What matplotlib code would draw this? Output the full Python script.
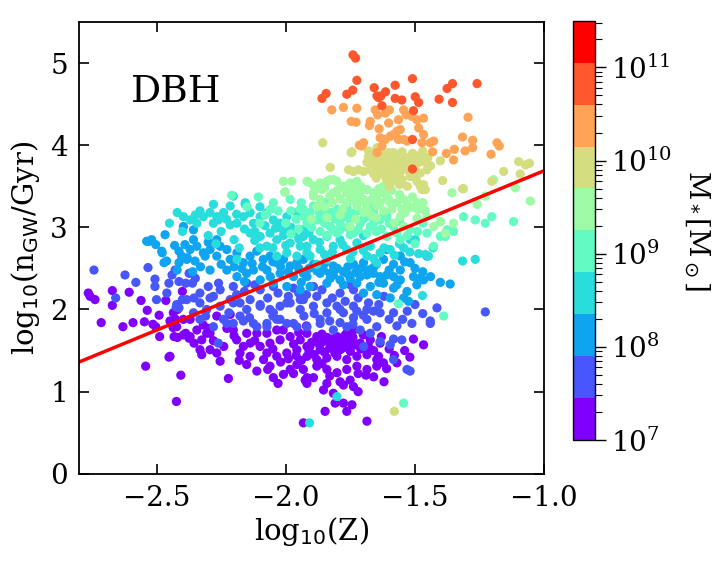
import numpy as np
import matplotlib
matplotlib.use("Agg")
import matplotlib.pyplot as plt
from matplotlib.colors import LogNorm

plt.rcParams['font.family'] = ['DejaVu Serif']
plt.rcParams['mathtext.fontset'] = 'dejavusans'

# log10 stellar mass of each colour bin
bin_logmass = [7.2, 7.65, 8.1, 8.55, 9.0, 9.45, 9.9, 10.35, 10.8]

pts_b0 = [(-2.764,2.20),(-2.757,2.16),(-2.738,2.12),(-2.671,2.23),(-2.671,2.05),(-2.606,2.21),(-2.56,2.11),(-2.536,1.99),(-2.49,1.93),(-2.464,2.11),(-2.514,1.82),(-2.503,1.79),(-2.488,1.67),(-2.63,1.79),(-2.591,1.84),(-2.547,1.85),(-2.714,1.84),(-2.436,1.78),(-2.426,1.88),(-2.419,2.00),(-2.40,2.22),(-2.432,1.67),(-2.419,1.66),(-2.387,1.71),(-2.374,1.65),(-2.355,1.59),(-2.452,1.42),(-2.406,1.20),(-2.542,1.31),(-2.423,0.88),(-2.448,1.86),(-2.435,1.96),(-2.396,1.88),(-2.396,1.69),(-2.37,1.67),(-2.344,1.75),(-2.325,1.63),(-2.319,1.81),(-2.299,1.77),(-2.293,1.71),(-2.267,1.47),(-2.254,1.37),(-2.222,1.16),(-2.332,1.51),(-2.293,1.51),(-2.325,1.45),(-2.448,1.43),(-2.19,1.63),(-2.164,1.55),(-2.138,1.59),(-2.177,1.47),(-2.138,1.43),(-2.151,1.33),(-2.112,1.25),(-2.086,1.39),(-2.061,1.31),(-2.048,1.17),(-2.009,1.21),(-1.983,1.27),(-1.957,1.33),(-1.932,1.27),(-1.918,1.17),(-2.073,1.47),(-2.035,1.43),(-1.996,1.47),(-1.957,1.51),(-1.918,1.55),(-2.099,1.55),(-2.061,1.59),(-2.022,1.63),(-1.983,1.67),(-1.944,1.63),(-1.918,1.71),(-2.151,1.71),(-2.112,1.71),(-2.073,1.71),(-2.035,1.75),(-2.203,1.75),(-2.228,1.77),(-2.306,1.71),(-2.422,1.79),(-2.37,1.88),(-2.267,1.92),(-2.215,1.94),(-1.88,1.67),(-1.841,1.63),(-1.802,1.67),(-1.764,1.71),(-1.738,1.75),(-1.906,1.55),(-1.867,1.51),(-1.828,1.55),(-1.79,1.51),(-1.751,1.55),(-1.712,1.59),(-1.673,1.63),(-1.635,1.59),(-1.918,1.43),(-1.88,1.39),(-1.841,1.41),(-1.802,1.43),(-1.764,1.39),(-1.725,1.43),(-1.686,1.45),(-1.648,1.39),(-1.88,1.31),(-1.841,1.27),(-1.802,1.23),(-1.764,1.27),(-1.725,1.31),(-1.686,1.27),(-1.648,1.31),(-1.925,1.14),(-1.893,1.17),(-1.841,1.10),(-1.79,1.12),(-1.751,1.14),(-1.854,1.02),(-1.816,0.98),(-1.777,1.08),(-1.738,1.06),(-1.777,0.86),(-1.744,0.84),(-1.809,0.86),(-1.764,0.76),(-1.686,0.64),(-1.848,0.76),(-1.918,1.10),(-1.641,1.43),(-1.622,1.35),(-1.86,1.60),(-1.82,1.58),(-1.78,1.62),(-1.84,1.66),(-1.80,1.56),(-1.76,1.60),(-1.88,1.62),(-1.83,1.53),(-1.79,1.65),(-1.74,1.66),(-1.86,1.70),(-1.90,1.60),(-1.932,0.62),(-1.467,1.57),(-1.506,1.64),
          (-2.05,1.52),(-2.02,1.36),(-1.99,1.40),(-1.96,1.44),(-1.94,1.38),(-1.91,1.49),(-1.89,1.45),(-1.87,1.57),(-1.85,1.48),(-1.82,1.64),(-1.81,1.47),(-1.78,1.53),(-1.77,1.69),(-1.75,1.49),(-1.73,1.57),(-1.71,1.52),(-1.70,1.69),(-1.68,1.55),(-1.66,1.50),(-1.63,1.67),(-1.60,1.52),(-1.58,1.44),(-1.61,1.28),(-1.69,1.20),(-1.72,1.22),(-1.83,1.19),(-1.86,1.34),(-1.97,1.58),(-2.01,1.75),(-2.12,1.62),(-2.18,1.38),(-2.24,1.55),(-2.28,1.62),(-2.20,1.68),(-2.07,1.27),(-1.95,1.72),(-1.92,1.80),(-1.97,1.22),(-2.03,1.10),(-1.72,1.00),(-1.66,1.18),(-1.62,1.12),(-1.57,1.35),(-1.54,1.50),(-1.52,1.42)]

pts_b1 = [(-2.742,2.48),(-2.622,2.42),(-2.533,2.51),(-2.506,2.37),(-2.506,2.28),(-2.452,2.32),(-2.428,2.48),(-2.413,2.34),(-2.387,2.32),(-2.374,2.44),(-2.361,2.32),(-2.355,2.14),(-2.40,2.12),(-2.413,2.02),(-2.658,2.14),(-2.424,2.03),(-2.383,2.12),(-2.332,2.20),(-2.28,2.16),(-2.254,2.24),(-2.203,2.28),(-2.151,2.32),(-2.099,2.24),(-2.048,2.28),(-1.95,2.20),(-1.893,2.28),(-1.79,2.20),(-1.738,2.24),(-2.357,1.96),(-2.306,2.00),(-2.254,2.04),(-2.203,2.08),(-2.151,2.00),(-2.099,2.04),(-2.048,1.96),(-1.996,2.08),(-1.944,2.00),(-1.893,2.04),(-1.841,1.96),(-1.79,2.00),(-1.738,2.04),(-2.332,1.88),(-2.28,1.79),(-2.228,1.83),(-2.177,1.92),(-2.125,1.83),(-2.073,1.79),(-2.022,1.88),(-1.97,1.83),(-1.918,1.79),(-1.867,1.83),(-1.816,1.75),(-1.764,1.79),(-2.261,1.59),(-1.932,2.12),(-1.88,2.16),(-1.841,2.08),(-1.802,2.04),(-1.777,1.96),(-1.725,1.98),(-1.686,2.00),(-1.661,1.98),(-1.635,1.96),(-1.583,1.96),(-1.686,1.88),(-1.648,1.79),(-1.712,1.75),(-1.673,1.71),(-1.635,1.61),(-1.596,1.57),(-1.583,1.39),(-1.551,1.63),(-1.512,1.83),(-1.441,1.83),(-1.415,2.02),(-1.531,1.27),(-1.519,1.25),(-1.699,1.55),(-1.738,1.90),(-1.867,1.88),(-1.228,1.97),(-1.441,1.86),(-1.548,1.88),(-1.583,1.64),(-2.422,2.06),(-2.332,2.08),(-2.293,2.14),(-2.215,2.12),(-2.177,2.08),(-2.138,2.12),(-2.099,2.06),(-2.061,2.00),(-2.022,2.04),(-1.983,2.08),(-1.944,2.12),(-2.241,1.88),(-2.203,1.83),(-2.164,1.86),(-2.112,1.79),(-2.073,1.83),(-2.035,1.88),(-1.996,1.83),(-1.957,1.79),
          (-2.26,2.32),(-2.19,2.18),(-2.16,2.22),(-2.12,2.30),(-2.07,2.14),(-2.03,2.20),(-1.99,2.16),(-1.97,2.26),(-1.92,2.18),(-1.86,2.24),(-1.82,2.14),(-1.77,2.10),(-1.75,2.30),(-1.72,2.14),(-1.68,2.08),(-1.64,2.06),(-1.62,2.16),(-1.60,1.88),(-1.57,1.80),(-1.53,1.98),(-1.50,2.06),(-1.47,1.95),(-2.31,1.92),(-2.22,1.96),(-2.14,1.90),(-2.05,1.92),(-1.93,1.92),(-1.89,1.95),(-1.83,1.86),(-1.79,1.84),(-1.74,1.82),(-1.70,1.93),(-2.46,2.20),(-2.50,2.12),(-2.58,2.33),(-2.44,2.42),(-2.35,2.38),(-2.30,2.28)]

pts_b2 = [(-2.467,2.91),(-2.48,2.71),(-2.39,2.79),(-2.357,2.85),(-2.383,2.61),(-2.351,2.59),(-2.312,2.65),(-2.293,2.73),(-2.267,2.65),(-2.228,2.73),(-2.215,2.61),(-2.189,2.69),(-2.164,2.57),(-2.138,2.65),(-2.112,2.71),(-2.087,2.61),(-2.061,2.65),(-2.035,2.57),(-2.009,2.61),(-1.983,2.53),(-1.957,2.57),(-2.125,2.48),(-2.073,2.48),(-2.022,2.44),(-1.97,2.40),(-1.932,2.44),(-2.293,2.48),(-2.228,2.48),(-2.189,2.40),(-2.151,2.44),(-2.099,2.36),(-2.048,2.32),(-1.996,2.28),(-1.944,2.24),(-2.357,2.97),(-2.396,3.01),(-2.538,2.83),(-2.519,2.85),(-2.461,2.59),(-2.403,2.65),(-2.37,2.73),(-2.344,2.77),(-2.319,2.69),(-2.267,2.85),(-2.254,2.77),(-2.529,2.83),(-2.503,2.79),(-2.478,2.69),(-2.413,2.71),(-2.413,2.57),(-2.471,2.57),(-2.381,2.63),(-1.932,2.61),(-1.893,2.55),(-1.854,2.48),(-1.816,2.53),(-1.777,2.46),(-1.738,2.55),(-1.699,2.57),(-1.661,2.51),(-1.622,2.61),(-1.583,2.55),(-1.557,2.48),(-1.519,2.57),(-1.48,2.38),(-1.583,2.40),(-1.635,2.40),(-1.686,2.42),(-1.751,2.38),(-1.828,2.38),(-1.918,2.40),(-1.557,2.65),(-1.454,2.65),(-1.609,2.73),(-1.867,2.44),(-1.816,2.42),(-1.764,2.44),(-1.712,2.40),(-1.661,2.44),(-1.609,2.42),(-1.557,2.36),(-1.506,2.40),(-1.467,2.36),(-1.402,2.33),(-1.364,2.31),(-1.906,2.28),(-1.841,2.32),(-1.777,2.30),(-1.725,2.32),(-1.673,2.28),(-1.622,2.32),(-1.583,2.26),(-1.531,2.22),(-1.493,2.30),(-1.648,2.18),(-1.596,2.14),(-1.544,2.14),(-1.525,2.10),(-1.699,2.20),
          (-2.25,2.55),(-2.20,2.52),(-2.17,2.50),(-2.13,2.56),(-2.09,2.52),(-2.05,2.58),(-2.02,2.52),(-1.99,2.46),(-1.95,2.50),(-1.91,2.50),(-1.88,2.47),(-1.85,2.56),(-1.83,2.44),(-1.80,2.50),(-1.79,2.36),(-1.76,2.52),(-1.73,2.45),(-1.71,2.50),(-1.68,2.48),(-1.65,2.55),(-1.64,2.33),(-1.60,2.48),(-1.57,2.30),(-1.54,2.58),(-1.50,2.50),(-1.47,2.46),(-1.44,2.40),(-2.33,2.52),(-2.36,2.46),(-2.42,2.48),(-2.43,2.78),(-2.30,2.82),(-2.16,2.34),(-2.06,2.40),(-1.94,2.33)]

pts_b3 = [(-2.28,3.28),(-2.215,3.26),(-2.157,3.28),(-2.138,3.18),(-2.332,3.20),(-2.396,3.13),(-2.37,3.09),(-2.344,3.05),(-2.319,3.13),(-2.293,3.18),(-2.267,3.13),(-2.241,3.18),(-2.215,3.03),(-2.189,3.05),(-2.164,3.13),(-2.125,3.05),(-2.099,3.13),(-2.073,3.18),(-2.048,3.09),(-2.022,3.05),(-1.996,3.13),(-1.957,3.18),(-2.138,2.93),(-2.099,2.89),(-2.061,2.93),(-2.009,2.97),(-1.97,2.93),(-1.932,2.97),(-2.035,2.85),(-1.983,2.81),(-1.944,2.77),(-2.073,2.77),(-1.996,2.69),(-1.957,2.65),(-1.918,2.69),(-2.189,2.61),(-2.035,2.65),(-2.261,3.09),(-2.203,3.38),(-2.157,3.30),(-1.932,2.89),(-1.893,2.85),(-1.841,2.89),(-1.79,2.85),(-1.918,2.77),(-1.867,2.73),(-1.816,2.77),(-1.764,2.73),(-1.906,2.65),(-1.841,2.61),(-1.725,2.81),(-1.673,2.77),(-1.635,2.69),(-1.686,2.65),(-1.596,2.73),(-1.648,2.57),(-1.519,2.85),(-1.486,2.68),(-1.46,2.67),(-1.43,2.75),(-1.448,2.65),(-1.316,2.59),(-1.267,2.61),(-1.499,2.85),(-1.544,2.75),(-1.471,2.17),(-1.802,0.94),(-1.908,0.62),(-2.25,2.95),(-2.30,2.90),(-2.10,2.75),(-1.88,2.55),(-1.75,2.62),(-1.70,2.90),(-2.45,3.05),(-2.20,2.85),
          (-2.35,3.15),(-2.28,3.05),(-2.23,3.10),(-2.19,3.16),(-2.16,2.98),(-2.12,2.95),(-2.08,3.02),(-2.04,2.99),(-2.01,2.90),(-1.98,3.00),(-1.95,2.86),(-1.91,2.93),(-1.87,2.82),(-1.85,2.67),(-1.82,2.70),(-1.78,2.79),(-1.74,2.70),(-1.70,2.72),(-1.66,2.62),(-1.62,2.75),(-1.58,2.66),(-1.56,2.80),(-1.52,2.70),(-2.27,2.80),(-2.18,2.75),(-2.12,2.84),(-2.05,2.75),(-2.00,2.78),(-2.40,2.95),(-2.42,3.18),(-2.10,3.25),(-2.03,3.00)]

pts_b4 = [(-2.048,3.30),(-1.983,3.34),(-1.944,3.22),(-1.893,3.26),(-1.848,3.30),(-1.816,3.18),(-1.764,3.26),(-1.725,3.30),(-1.88,3.09),(-1.816,2.97),(-1.751,3.09),(-1.738,2.93),(-1.932,3.22),(-1.906,3.18),(-1.88,3.24),(-1.854,3.20),(-1.828,3.18),(-1.802,3.22),(-1.777,3.13),(-1.751,3.18),(-1.725,3.20),(-1.686,3.13),(-1.661,3.18),(-1.635,3.09),(-1.609,3.13),(-1.583,3.01),(-1.918,3.05),(-1.867,3.09),(-1.828,3.01),(-1.79,3.05),(-1.76,3.00),(-1.712,3.05),(-1.673,3.01),(-1.867,2.95),(-1.802,2.93),(-1.751,2.91),(-1.686,2.93),(-1.609,2.89),(-1.57,2.93),(-1.519,2.97),(-1.557,2.85),(-1.454,2.93),(-1.402,2.89),(-1.376,2.97),(-1.351,2.95),(-1.402,3.07),(-1.383,2.89),(-1.312,3.13),(-1.267,3.09),(-1.228,3.05),(-1.203,3.13),(-1.119,3.07),(-1.428,2.77),(-1.564,2.07),(-1.389,1.92),(-1.544,0.86),(-2.209,3.39),(-2.106,3.37),(-2.003,3.43),(-2.15,3.25),(-2.08,3.15),(-2.00,3.05),(-1.95,2.98),(-2.03,3.20),(-1.65,2.95),(-1.50,2.80),(-1.47,3.05),
          (-1.98,3.20),(-1.96,3.10),(-1.93,3.13),(-1.90,3.00),(-1.87,3.18),(-1.85,3.05),(-1.84,2.90),(-1.81,3.10),(-1.79,2.97),(-1.77,3.25),(-1.74,3.15),(-1.72,2.97),(-1.70,3.10),(-1.68,3.25),(-1.66,3.05),(-1.63,2.98),(-1.62,3.15),(-1.60,3.05),(-1.56,3.08),(-1.53,2.90),(-1.49,2.95),(-2.10,3.05),(-2.06,3.22),(-1.98,2.92),(-1.94,3.30)]

pts_b5 = [(-1.918,3.56),(-1.867,3.54),(-1.828,3.58),(-1.802,3.56),(-1.816,3.42),(-1.777,3.50),(-1.751,3.54),(-1.725,3.56),(-1.738,3.38),(-1.712,3.42),(-1.686,3.46),(-1.699,3.34),(-1.667,3.34),(-1.648,3.38),(-1.622,3.42),(-1.635,3.30),(-1.602,3.34),(-1.57,3.30),(-1.544,3.34),(-1.519,3.24),(-1.467,3.22),(-1.454,3.13),(-1.428,3.01),(-1.402,3.07),(-1.383,2.93),(-1.357,3.42),(-1.351,3.05),(-1.557,3.13),(-1.493,3.11),(-1.544,3.01),(-1.622,3.50),(-1.764,3.30),(-1.725,3.26),(-1.686,3.22),(-1.751,3.01),(-1.893,3.42),(-1.86,3.46),(-1.648,3.26),(-1.596,3.30),(-1.538,3.18),(-1.493,3.30),(-1.46,3.20),(-1.312,3.47),(-1.26,3.28),(-1.228,3.38),(-1.054,3.32),(-1.112,3.48),(-1.196,3.58),(-2.009,3.56),(-1.977,3.56),(-1.912,3.55),(-2.003,3.43),(-1.893,3.38),(-1.867,3.34),(-1.841,3.56),(-1.816,3.58),(-1.764,3.42),(-1.738,3.46),(-1.751,3.34),(-1.88,3.25),(-1.82,3.30),(-1.78,3.22),(-1.70,3.18),(-1.65,3.12),(-1.62,3.20),(-1.58,3.05),(-1.55,3.22),(-1.90,3.10),(-1.84,3.12),
          (-1.89,3.50),(-1.85,3.48),(-1.83,3.38),(-1.80,3.45),(-1.79,3.35),(-1.76,3.48),(-1.73,3.35),(-1.71,3.50),(-1.69,3.28),(-1.66,3.42),(-1.64,3.47),(-1.61,3.37),(-1.59,3.45),(-1.59,3.22),(-1.56,3.40),(-1.53,3.28),(-1.51,3.37),(-1.49,3.22),(-1.47,3.30),(-1.85,3.25),(-1.79,3.15),(-1.73,3.10),(-1.67,3.15)]

pts_b6 = [(-1.857,4.03),(-1.747,3.91),(-1.828,3.73),(-1.757,3.70),(-1.738,3.68),(-1.719,3.70),(-1.699,3.68),(-1.68,3.93),(-1.667,3.87),(-1.686,3.79),(-1.654,3.82),(-1.673,3.70),(-1.641,3.74),(-1.622,3.79),(-1.628,3.70),(-1.615,3.62),(-1.602,3.74),(-1.596,3.66),(-1.577,3.72),(-1.57,3.82),(-1.557,3.87),(-1.583,3.91),(-1.544,3.76),(-1.531,3.70),(-1.519,3.79),(-1.499,3.87),(-1.48,3.85),(-1.46,3.80),(-1.454,3.70),(-1.506,3.62),(-1.493,3.56),(-1.467,3.52),(-1.564,3.62),(-1.589,3.56),(-1.602,3.91),(-1.622,3.89),(-1.647,3.97),(-1.635,3.89),(-1.402,3.81),(-1.393,3.57),(-1.316,3.47),(-1.203,3.56),(-1.157,3.68),(-1.099,3.80),(-1.093,3.65),(-1.073,3.76),(-1.057,3.78),(-1.473,3.46),(-1.58,0.76),(-1.744,3.92),(-1.66,3.79),(-1.609,3.74),(-1.583,3.79),(-1.557,3.70),(-1.531,3.76),(-1.506,3.82),(-1.486,3.87),(-1.467,3.80),(-1.583,3.62),(-1.635,3.66),(-1.609,3.58),(-1.519,3.62),(-1.48,3.50),(-1.46,3.46),(-1.65,3.60),(-1.55,3.58),(-1.62,3.84),(-1.54,3.83),(-1.59,3.68),(-1.50,3.70),(-1.57,3.77),(-1.66,3.70),
          (-1.68,3.86),(-1.66,3.65),(-1.64,3.78),(-1.63,3.92),(-1.61,3.68),(-1.60,3.83),(-1.58,3.75),(-1.56,3.65),(-1.55,3.92),(-1.53,3.85),(-1.52,3.68),(-1.51,3.90),(-1.49,3.78),(-1.48,3.66),(-1.47,3.93),(-1.45,3.85),(-1.44,3.75),(-1.60,3.50),(-1.56,3.52),(-1.53,3.50)]

pts_b7 = [(-1.822,4.43),(-1.777,4.46),(-1.725,4.45),(-1.747,4.29),(-1.728,4.28),(-1.673,4.29),(-1.676,4.24),(-1.654,4.43),(-1.645,4.37),(-1.615,4.39),(-1.599,4.43),(-1.602,4.27),(-1.564,4.31),(-1.544,4.43),(-1.534,4.37),(-1.512,4.35),(-1.493,4.31),(-1.467,4.33),(-1.639,4.20),(-1.57,4.17),(-1.557,4.19),(-1.583,4.13),(-1.596,4.11),(-1.564,4.07),(-1.544,4.07),(-1.531,4.05),(-1.635,4.09),(-1.628,3.99),(-1.615,4.07),(-1.699,4.03),(-1.706,3.99),(-1.486,4.21),(-1.467,4.13),(-1.473,4.03),(-1.441,4.03),(-1.428,4.05),(-1.432,3.92),(-1.379,3.90),(-1.348,3.95),(-1.351,3.82),(-1.316,4.10),(-1.306,3.93),(-1.277,3.97),(-1.277,4.06),(-1.295,4.34),(-1.206,3.89),(-1.183,4.03),(-1.174,3.99),(-1.647,3.91),(-1.715,4.00)]

pts_b8 = [(-1.74,5.10),(-1.73,5.06),(-1.725,4.79),(-1.86,4.57),(-1.844,4.63),(-1.764,4.62),(-1.741,4.67),(-1.658,4.70),(-1.647,4.60),(-1.641,4.58),(-1.632,4.60),(-1.614,4.65),(-1.628,4.48),(-1.577,4.73),(-1.577,4.57),(-1.551,4.55),(-1.51,4.81),(-1.499,4.59),(-1.486,4.52),(-1.506,4.42),(-1.407,4.56),(-1.376,4.69),(-1.355,4.75),(-1.355,4.52),(-1.26,4.75),(-1.51,4.07),(-1.51,3.71)]

bins = [pts_b0, pts_b1, pts_b2, pts_b3, pts_b4, pts_b5, pts_b6, pts_b7, pts_b8]

# fitted relation (end points)
fit_x = [-2.8, -1.0]
fit_y = [1.36, 3.69]

x_ticks = [-2.5, -2.0, -1.5, -1.0]
y_ticks = [0, 1, 2, 3, 4, 5]

xs, ys, ms = [], [], []
for pts, lm in zip(bins, bin_logmass):
    for (a, b) in pts:
        xs.append(a); ys.append(b); ms.append(10 ** lm)

fig = plt.figure(figsize=(7.18, 5.64), dpi=100)
ax = fig.add_axes([0.110, 0.160, 0.648, 0.801])
cmap = plt.get_cmap('rainbow', 10)
norm = LogNorm(vmin=1e7, vmax=10 ** 11.5)
sc = ax.scatter(xs, ys, c=ms, cmap=cmap, norm=norm, s=44, edgecolors='none')
ax.plot(fit_x, fit_y, color='red', lw=2.5)

ax.set_xlim(-2.8, -1.0)
ax.set_ylim(0, 5.5)
ax.set_xticks(x_ticks)
ax.set_yticks(y_ticks)
ax.tick_params(direction='in', top=True, right=True, length=7, width=1.2,
               labelsize=20, pad=8)
for sp in ax.spines.values():
    sp.set_linewidth(1.3)
ax.set_xlabel(r'log$_{10}$(Z)', fontsize=21, labelpad=2)
ax.set_ylabel(r'log$_{10}$(n$_{\rm GW}$/Gyr)', fontsize=21, labelpad=6)
ax.text(-2.6, 4.65, 'DBH', fontsize=27, ha='left', va='center')

cax = fig.add_axes([0.798, 0.220, 0.031, 0.743])
cb = fig.colorbar(sc, cax=cax)
cb.ax.tick_params(which='major', direction='out', length=8, width=1.0, labelsize=20)
cb.ax.tick_params(which='minor', direction='out', length=5, width=0.8)
cb.outline.set_linewidth(1.0)
cb.set_label(r'M$_*$[M$_\odot$]', rotation=270, labelpad=28, fontsize=20)

fig.savefig('out.png', dpi=100)
